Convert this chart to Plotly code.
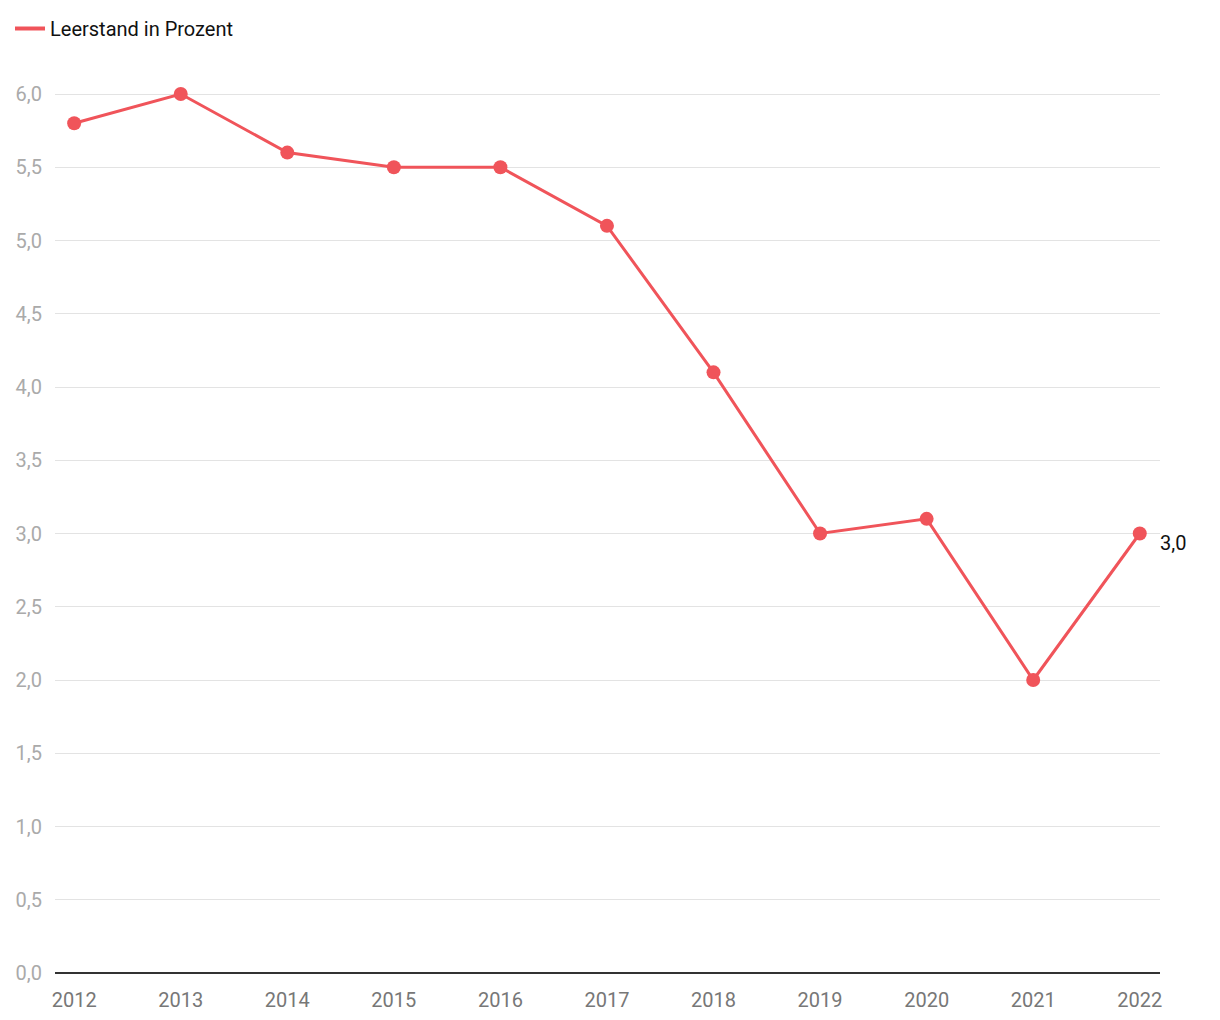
import plotly.graph_objects as go

years = [2012, 2013, 2014, 2015, 2016, 2017, 2018, 2019, 2020, 2021, 2022]
leerstand = [5.8, 6.0, 5.6, 5.5, 5.5, 5.1, 4.1, 3.0, 3.1, 2.0, 3.0]
series_name = "Leerstand in Prozent"
y_ticks = [0, 0.5, 1, 1.5, 2, 2.5, 3, 3.5, 4, 4.5, 5, 5.5, 6]

FONT = "Liberation Sans Narrow, Roboto, sans-serif"
RED = "#f0545a"

fig = go.Figure()
fig.add_trace(go.Scatter(
    x=years, y=leerstand, mode="lines+markers", name=series_name,
    line=dict(color=RED, width=3),
    marker=dict(color=RED, size=14),
    cliponaxis=False, showlegend=False,
))
# legend entry (line only)
fig.add_trace(go.Scatter(
    x=[None], y=[None], mode="lines", name=series_name,
    line=dict(color=RED, width=4), showlegend=True,
))
fig.add_annotation(x=years[-1], y=leerstand[-1], text="3,0", showarrow=False,
                   xanchor="left", xshift=18, yshift=-9,
                   font=dict(family=FONT, size=20, color="#111"))

fig.update_layout(
    width=1220, height=1020,
    margin=dict(l=55, r=60, t=92, b=47),
    paper_bgcolor="white", plot_bgcolor="white",
    separators=",.",
    font=dict(family=FONT),
    showlegend=True,
    legend=dict(xref="container", yref="container", x=10/1220, y=1 - 9/1020,
                xanchor="left", yanchor="top", orientation="h",
                font=dict(family=FONT, size=20, color="#111"),
                itemwidth=30, bgcolor="rgba(0,0,0,0)"),
    xaxis=dict(range=[2011.82, 2022.19], tickvals=years, ticktext=[str(y) for y in years],
               showgrid=False, zeroline=False, showline=False, automargin=False,
               tickfont=dict(family=FONT, size=20, color="#777"),
               ticks="outside", ticklen=9, tickcolor="rgba(0,0,0,0)"),
    yaxis=dict(range=[0, 6.0137], tickvals=y_ticks, tickformat=".1f", automargin=False,
               showgrid=True, gridcolor="#e3e3e3", gridwidth=1,
               zeroline=True, zerolinecolor="#333", zerolinewidth=2,
               showline=False, ticks="outside", ticklen=8, tickcolor="rgba(0,0,0,0)",
               tickfont=dict(family=FONT, size=20, color="#aaa")),
)
fig.write_html("out.html")
